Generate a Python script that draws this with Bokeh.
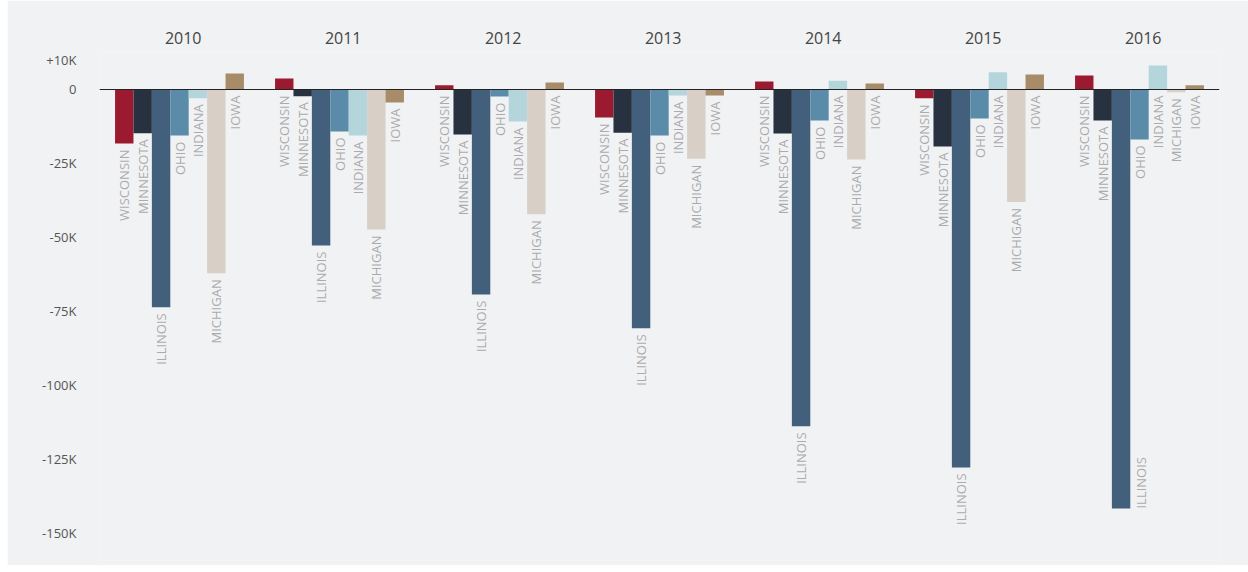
import numpy as np
from bokeh.plotting import figure
from bokeh.models import ColumnDataSource, Range1d, FixedTicker, Span, LinearAxis, Spacer
from bokeh.layouts import row
from bokeh.core.properties import value
from bokeh.embed import file_html
from bokeh.resources import INLINE

years = ["2010", "2011", "2012", "2013", "2014", "2015", "2016"]
states = ["WISCONSIN", "MINNESOTA", "ILLINOIS", "OHIO", "INDIANA", "MICHIGAN", "IOWA"]
colors = ["#9C1A2F", "#283140", "#425F7B", "#5A8CA9", "#B5D5DD", "#D8D0C7", "#A88B68"]

# net migration values (thousands) per year, in state order
v2010 = [-18.3, -14.8, -73.7, -15.6, -3.0, -62.2, 5.4]
v2011 = [3.7, -2.3, -52.8, -14.2, -15.6, -47.4, -4.4]
v2012 = [1.4, -15.2, -69.4, -2.4, -10.8, -42.2, 2.4]
v2013 = [-9.5, -14.6, -80.8, -15.6, -2.0, -23.4, -2.0]
v2014 = [2.7, -14.9, -114.0, -10.5, 3.0, -23.7, 2.0]
v2015 = [-3.0, -19.3, -127.9, -9.8, 5.8, -38.1, 5.1]
v2016 = [4.7, -10.5, -141.8, -16.9, 8.1, -0.9, 1.4]
series = [v2010, v2011, v2012, v2013, v2014, v2015, v2016]

tick_values = [10000, 0, -25000, -50000, -75000, -100000, -125000, -150000]
tick_labels = ["+10K", "0", "-25K", "-50K", "-75K", "-100K", "-125K", "-150K"]

GAP = 1.69
STRIDE = len(states) + GAP
Y_START, Y_END = -159390, 12521
LABEL_ROOM = 20000  # room needed below a bar for its label

below = dict(x=[], y=[], label=[])
beside = dict(x=[], y=[], label=[])
xs, ys, cols = [], [], []
for i, vals in enumerate(series):
    for j, v in enumerate(vals):
        x = i * STRIDE + GAP / 2 + j + 0.5
        xs.append(x)
        ys.append(v * 1000)
        cols.append(colors[j])
        end = min(v, 0) * 1000
        if end - LABEL_ROOM < Y_START:
            beside["x"].append(x + 1.1)
            beside["y"].append(end)
            beside["label"].append(states[j])
        else:
            below["x"].append(x)
            below["y"].append(end)
            below["label"].append(states[j])

src = ColumnDataSource(dict(x=xs, top=ys, color=cols))

BG = "#F1F2F4"
p = figure(width=1241, height=565, output_backend="svg", toolbar_location=None,
           x_range=Range1d(0, STRIDE * len(years)),
           y_range=Range1d(Y_START, Y_END),
           min_border_left=92, min_border_right=29, min_border_top=52, min_border_bottom=5,
           background_fill_color=BG, border_fill_color=BG, outline_line_color=None)

p.vbar(x="x", top="top", bottom=0, width=1.0, color="color", line_color=None, source=src)

lab_style = dict(angle=np.pi / 2, text_baseline="middle",
                 text_font=value("Open Sans"), text_font_size="13px", text_color="#ABABAB")
p.text(x="x", y="y", text="label", source=ColumnDataSource(below),
       text_align="right", y_offset=6, **lab_style)
p.text(x="x", y="y", text="label", source=ColumnDataSource(beside),
       text_align="left", y_offset=0, **lab_style)

p.add_layout(Span(location=0, dimension="width", line_color="#222222", line_width=1.2))

# y axis
p.yaxis.ticker = FixedTicker(ticks=tick_values)
p.yaxis.major_label_overrides = {t: l for t, l in zip(tick_values, tick_labels)}
p.yaxis.axis_line_color = None
p.yaxis.major_tick_line_color = None
p.yaxis.minor_tick_line_color = None
p.yaxis.major_label_standoff = 17
p.yaxis.major_label_text_font = "Open Sans"
p.yaxis.major_label_text_font_size = "13px"
p.yaxis.major_label_text_color = "#555555"

# year labels on an axis above
p.xaxis.visible = False
top_axis = LinearAxis()
centers = [i * STRIDE + STRIDE / 2 + 0.2 for i in range(len(years))]
top_axis.ticker = FixedTicker(ticks=centers)
top_axis.major_label_overrides = {c: y for c, y in zip(centers, years)}
top_axis.axis_line_color = None
top_axis.major_tick_line_color = None
top_axis.minor_tick_line_color = None
top_axis.major_label_standoff = 3
top_axis.major_label_text_font = "Open Sans"
top_axis.major_label_text_font_size = "16px"
top_axis.major_label_text_color = "#444444"
p.add_layout(top_axis, "above")

p.grid.visible = False

layout = row(Spacer(width=7, height=565), p)

open("out.html", "w").write(file_html(layout, INLINE))
